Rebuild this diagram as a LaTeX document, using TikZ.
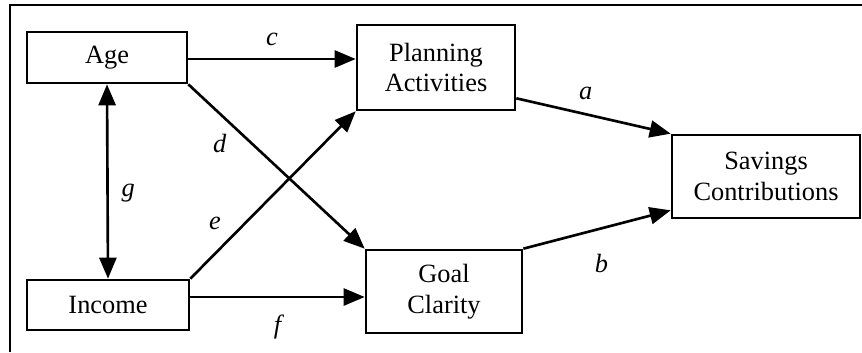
\documentclass[tikz,border=0pt]{standalone}
\usepackage{fontspec}
\setmainfont{Liberation Serif}
\usetikzlibrary{positioning, arrows.meta}

\begin{document}
\begin{tikzpicture}[
    box/.style={draw, rectangle, line width=1.5pt, align=center,
                inner sep=0pt, font=\fontsize{15}{17.5}\selectfont},
    arrow/.style={-{Triangle[length=0.42cm, width=0.34cm]}, line width=1.5pt},
    dblarrow/.style={{Triangle[length=0.42cm, width=0.34cm]}-{Triangle[length=0.42cm, width=0.34cm]},
                line width=1.5pt},
    lbl/.style={font=\fontsize{15}{17}\selectfont\itshape, inner sep=1pt}
]
\useasboundingbox (0,0) rectangle (17.24,-7.04);
% Frame
\draw[line width=0.7pt] (0.2,-7.04) -- (0.2,-0.1) -- (17.24,-0.1);
% Predictors
\node[box, minimum width=3.2cm, minimum height=1.02cm] (age) at (2.14,-1.15) {Age};
\node[box, minimum width=3.24cm, minimum height=1.0cm] (income) at (2.16,-6.10) {Income};
% Mediators
\node[box, minimum width=3.16cm, minimum height=1.7cm] (plan) at (8.72,-1.35)
      {Planning\\Activities};
\node[box, minimum width=3.12cm, minimum height=1.66cm] (goal) at (8.88,-5.83)
      {Goal\\Clarity};
% Outcome
\node[box, minimum width=3.76cm, minimum height=1.66cm] (sav) at (15.32,-3.53)
      {Savings\\Contributions};
% Paths
\draw[arrow] ([yshift=-0.03cm]age.east) --
      node[lbl, above=0.2cm] {c} ([yshift=-0.03cm]age.east -| plan.west);
\draw[arrow] (age.south east) --
      node[lbl, pos=0.36, left=0.45cm] {d} (goal.north west);
\draw[arrow] (income.north east) --
      node[lbl, pos=0.33, left=0.42cm] {e} (plan.south west);
\draw[arrow] ([yshift=0.16cm]income.east) --
      node[lbl, below=0.3cm] {f} ([yshift=0.16cm]income.east -| goal.west);
\draw[dblarrow] (age.south) --
      node[lbl, pos=0.56, right=0.22cm] {g} (income.north);
\draw[arrow] ([yshift=0.26cm]plan.south east) --
      node[lbl, pos=0.45, above=0.22cm] {a} (sav.north west);
\draw[arrow] (goal.north east) --
      node[lbl, pos=0.53, below=0.45cm] {b} ([yshift=0.18cm]sav.south west);
\end{tikzpicture}
\end{document}
